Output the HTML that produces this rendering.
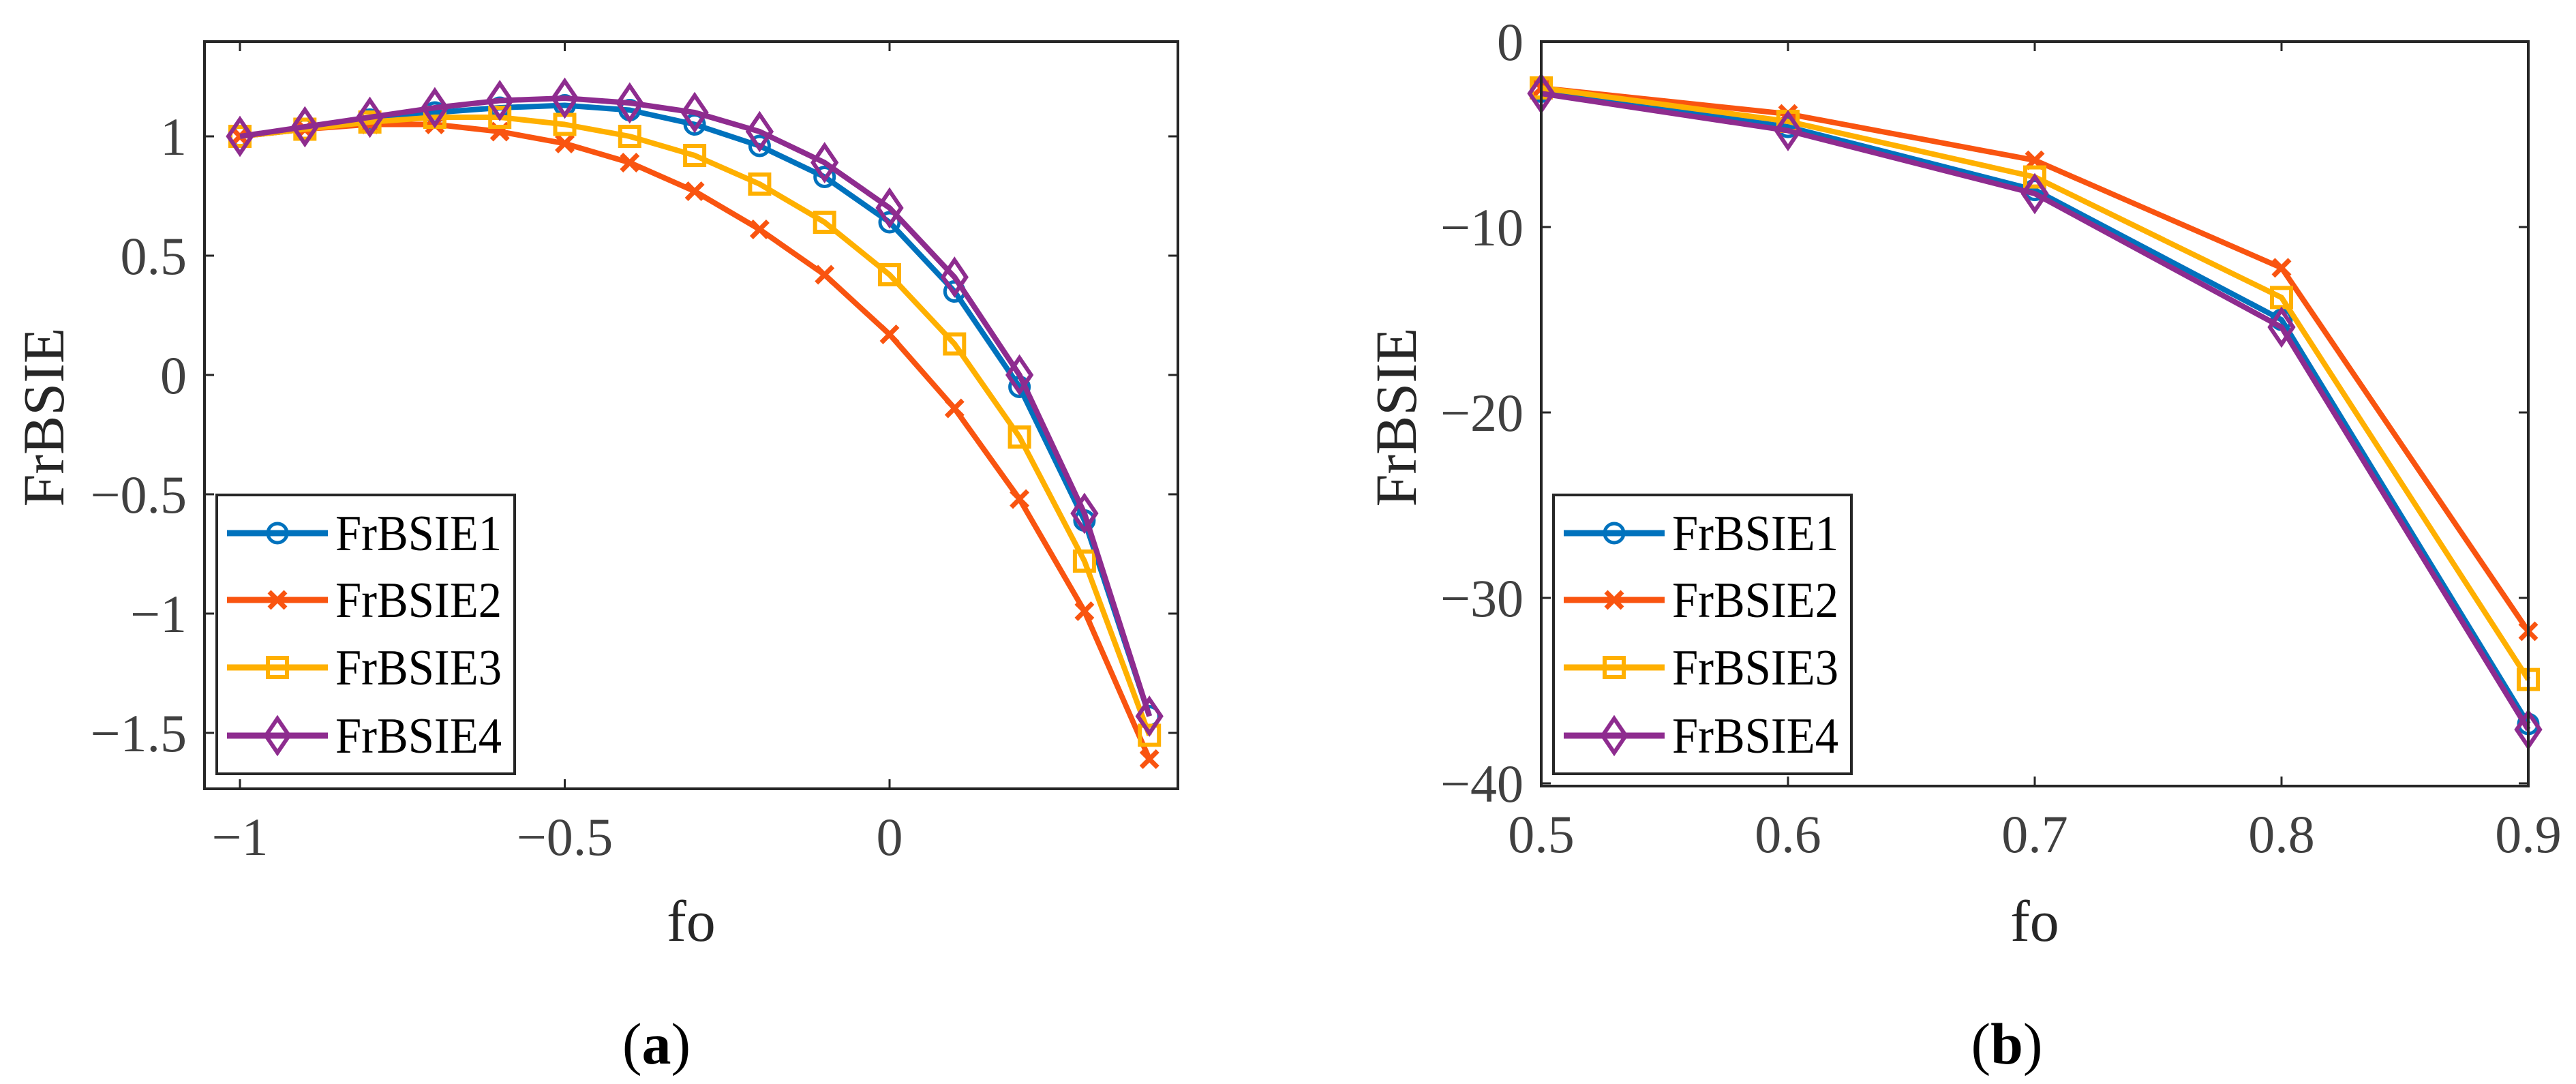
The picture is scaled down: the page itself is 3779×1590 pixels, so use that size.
<!DOCTYPE html>
<html><head><meta charset="utf-8">
<style>
html,body{margin:0;padding:0;background:#fff;}
svg{display:block;}
text{font-family:"Liberation Serif",serif;}
</style></head>
<body>
<svg id="fig" width="3779" height="1590" viewBox="0 0 3779 1590" xmlns="http://www.w3.org/2000/svg">
<rect x="0" y="0" width="3779" height="1590" fill="#fff"/>
</svg>
<script>
const seriesNames=["FrBSIE1","FrBSIE2","FrBSIE3","FrBSIE4"];
const colors=["#0072BD","#F95410","#FFB000","#8E2C8F"];
const markers=["circle","x","square","diamond"];
// Panel (a)
const xA=[-1,-0.9,-0.8,-0.7,-0.6,-0.5,-0.4,-0.3,-0.2,-0.1,0,0.1,0.2,0.3,0.4];
const a1=[1,1.03,1.07,1.1,1.12,1.13,1.11,1.05,0.96,0.83,0.64,0.35,-0.05,-0.61,-1.43];
const a2=[1,1.03,1.05,1.05,1.02,0.97,0.89,0.77,0.61,0.42,0.17,-0.14,-0.52,-0.99,-1.61];
const a3=[1,1.03,1.06,1.08,1.08,1.05,1.0,0.92,0.8,0.64,0.42,0.13,-0.26,-0.78,-1.51];
const a4=[1,1.04,1.08,1.12,1.15,1.16,1.14,1.1,1.02,0.89,0.7,0.41,0.0,-0.58,-1.43];
const xTicksA=[-1,-0.5,0];
const xTickLabelsA=["\u22121","\u22120.5","0"];
const yTicksA=[1,0.5,0,-0.5,-1,-1.5];
const yTickLabelsA=["1","0.5","0","\u22120.5","\u22121","\u22121.5"];
// Panel (b)
const xB=[0.5,0.6,0.7,0.8,0.9];
const b1=[-2.7,-4.6,-8.0,-15.0,-36.8];
const b2=[-2.5,-3.9,-6.4,-12.2,-31.8];
const b3=[-2.5,-4.3,-7.3,-13.8,-34.4];
const b4=[-2.8,-4.8,-8.2,-15.4,-37.1];
const xTicksB=[0.5,0.6,0.7,0.8,0.9];
const xTickLabelsB=["0.5","0.6","0.7","0.8","0.9"];
const yTicksB=[0,-10,-20,-30,-40];
const yTickLabelsB=["0","\u221210","\u221220","\u221230","\u221240"];

const NS="http://www.w3.org/2000/svg";
const svg=document.getElementById("fig");
function mk(tag,attrs,parent){const e=document.createElementNS(NS,tag);for(const k in attrs)e.setAttribute(k,attrs[k]);(parent||svg).appendChild(e);return e;}

function marker(g,type,cx,cy,col){
  let e;
  if(type==="circle"){e=mk("circle",{cx:cx,cy:cy,r:14,fill:"none",stroke:col,"stroke-width":5},g);}
  else if(type==="x"){e=mk("path",{d:`M${cx-12},${cy-12}L${cx+12},${cy+12}M${cx-12},${cy+12}L${cx+12},${cy-12}`,stroke:col,"stroke-width":7,fill:"none"},g);}
  else if(type==="square"){e=mk("rect",{x:cx-14,y:cy-14,width:28,height:28,fill:"none",stroke:col,"stroke-width":6},g);}
  else {e=mk("path",{d:`M${cx},${cy-25}L${cx+17},${cy}L${cx},${cy+25}L${cx-17},${cy}Z`,fill:"none",stroke:col,"stroke-width":6},g);}
  
  
}

function panel(cfg){
  const {id,L,R,T,B,X,Y,xs,series,xt,xtl,yt,ytl,legX,label,labelX}=cfg;
  const g=mk("g",{});
  
  
  xt.forEach((v,i)=>{
    const x=X(v);
    const t=mk("path",{d:`M${x},${B}V${B-14}M${x},${T}V${T+14}`,stroke:"#262626","stroke-width":3},g);
    
    
    const tl=mk("text",{x:x,y:B+97,"font-size":78,fill:"#404040","text-anchor":"middle"},g);
    tl.textContent=xtl[i];
    
    
  });
  yt.forEach((v,i)=>{
    const y=Y(v);
    const t=mk("path",{d:`M${L},${y}H${L+14}M${R},${y}H${R-14}`,stroke:"#262626","stroke-width":3},g);
    
    
    const tl=mk("text",{x:L-26,y:y+27,"font-size":78,fill:"#404040","text-anchor":"end"},g);
    tl.textContent=ytl[i];
    
    
  });
  series.forEach((vals,s)=>{
    const sg=mk("g",{},g);
    
    
    const pts=vals.map((v,i)=>X(xs[i]).toFixed(1)+","+Y(v).toFixed(1)).join(" ");
    const pl=mk("polyline",{points:pts,fill:"none",stroke:colors[s],"stroke-width":8,"stroke-linejoin":"round"},sg);
    
    
    vals.forEach((v,i)=>marker(sg,markers[s],X(xs[i]),Y(v),colors[s]));
  });
  const box=mk("rect",{x:L,y:T,width:R-L,height:B-T,fill:"none",stroke:"#262626","stroke-width":4},g);
  
  
  const yl=mk("text",{x:0,y:0,"font-size":86,fill:"#262626","text-anchor":"middle",transform:`translate(${labelX+60},612) rotate(-90)`},g);
  yl.textContent="FrBSIE";
  
  
  const xl=mk("text",{x:(L+R)/2,y:1380,"font-size":86,fill:"#262626","text-anchor":"middle"},g);
  xl.textContent="fo";
  
  
  const lg=mk("g",{},g);
  
  
  const lb=mk("rect",{x:legX,y:726,width:437,height:409,fill:"#fff",stroke:"#262626","stroke-width":4},lg);
  
  
  const offs=[56,154,253,353];
  seriesNames.forEach((n,s)=>{
    const y=726+offs[s];
    const eg=mk("g",{},lg);
    
    
    mk("line",{x1:legX+15,x2:legX+163,y1:y,y2:y,stroke:colors[s],"stroke-width":9},eg);
    marker(eg,markers[s],legX+89,y,colors[s]);
    const t=mk("text",{x:legX+174,y:y+25,"font-size":74,fill:"#000",textLength:244,lengthAdjust:"spacingAndGlyphs"},eg);
    t.textContent=n;
    
    
  });
  const pl=mk("text",{x:cfg.capX,y:1560,"font-size":86,fill:"#000","text-anchor":"middle"},g);
  pl.innerHTML='(<tspan font-weight="bold">'+label+'</tspan>)';
  
  
}

panel({id:"panel-a",L:300,R:1728,T:61,B:1157,
  X:v=>1305+v*953, Y:v=>200+(1-v)*350,
  xs:xA,series:[a1,a2,a3,a4],xt:xTicksA,xtl:xTickLabelsA,yt:yTicksA,ytl:yTickLabelsA,
  legX:318,label:"a",labelX:33,capX:963});
panel({id:"panel-b",L:2261,R:3709,T:61,B:1153,
  X:v=>2261+(v-0.5)*3620, Y:v=>61+(-v)*27.2,
  xs:xB,series:[b1,b2,b3,b4],xt:xTicksB,xtl:xTickLabelsB,yt:yTicksB,ytl:yTickLabelsB,
  legX:2279,label:"b",labelX:2017,capX:2944});
</script>
</body></html>
